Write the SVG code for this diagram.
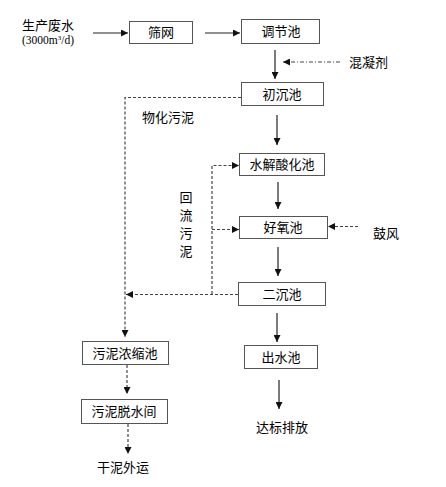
<svg xmlns="http://www.w3.org/2000/svg" width="446" height="487" viewBox="0 0 446 487">
<style>
.box{fill:#fff;stroke:#555;stroke-width:1}
.t{font-family:"Noto Sans CJK SC","Liberation Sans",sans-serif;font-size:13px;fill:#000}
.c{text-anchor:middle}
.r{font-family:"Liberation Serif",serif;font-size:11.5px;fill:#000}
.s{stroke:#222;stroke-width:1.2;fill:none}
.d{stroke:#444;stroke-width:1.2;fill:none;stroke-dasharray:3 2}
.dd{stroke:#444;stroke-width:1;fill:none;stroke-dasharray:4 2 1 2}
</style>
<defs>
<marker id="ah" viewBox="0 0 8 8" refX="8" refY="4" markerWidth="7" markerHeight="7" markerUnits="userSpaceOnUse" orient="auto">
<path d="M0,0 L8,4 L0,8 Z" fill="#111"/>
</marker>
</defs>
<g id="labels">
<text class="t" x="22" y="29.5">生产废水</text>
<text class="r" x="22" y="43.5">(3000m<tspan font-size="7" baseline-shift="super">3</tspan>/d)</text>
<text class="t" x="349" y="67">混凝剂</text>
<text class="t" x="142" y="122">物化污泥</text>
<text class="t" x="373" y="238">鼓风</text>
<text class="t" x="186" y="191" writing-mode="vertical-rl" letter-spacing="5">回流污泥</text>
<text class="t" x="97" y="472">干泥外运</text>
<text class="t" x="256" y="432">达标排放</text>
</g>
<g id="n-shaiwang"><rect class="box" x="129.5" y="21.5" width="63" height="22"/><text class="t c" x="161" y="37">筛网</text></g>
<g id="n-tiaojie"><rect class="box" x="241.5" y="19.5" width="78" height="24"/><text class="t c" x="281" y="36">调节池</text></g>
<g id="n-chuchen"><rect class="box" x="241.5" y="82.5" width="82" height="23"/><text class="t c" x="282" y="99">初沉池</text></g>
<g id="n-shuijie"><rect class="box" x="239.5" y="153.5" width="85" height="22"/><text class="t c" x="282" y="169">水解酸化池</text></g>
<g id="n-haoyang"><rect class="box" x="239.5" y="216.5" width="88" height="22"/><text class="t c" x="283" y="232">好氧池</text></g>
<g id="n-erchen"><rect class="box" x="238.5" y="282.5" width="87" height="23"/><text class="t c" x="282" y="299">二沉池</text></g>
<g id="n-chushui"><rect class="box" x="244.5" y="345.5" width="73" height="23"/><text class="t c" x="281" y="362">出水池</text></g>
<g id="n-nongsuo"><rect class="box" x="82.5" y="341.5" width="86" height="23"/><text class="t c" x="125" y="358">污泥浓缩池</text></g>
<g id="n-tuoshui"><rect class="box" x="81.5" y="399.5" width="86" height="24"/><text class="t c" x="124" y="416">污泥脱水间</text></g>
<g id="connectors">
<line class="s" x1="93" y1="33" x2="128" y2="33" marker-end="url(#ah)"/>
<line class="s" x1="205" y1="33" x2="240" y2="33" marker-end="url(#ah)"/>
<line class="s" x1="275" y1="50" x2="275" y2="79" marker-end="url(#ah)"/>
<line class="dd" x1="340" y1="62" x2="283" y2="62" marker-end="url(#ah)"/>
<line class="s" x1="277" y1="115" x2="277" y2="145" marker-end="url(#ah)"/>
<line class="s" x1="278" y1="182" x2="278" y2="209" marker-end="url(#ah)"/>
<line class="s" x1="278" y1="247" x2="278" y2="276" marker-end="url(#ah)"/>
<line class="s" x1="277" y1="313" x2="277" y2="342" marker-end="url(#ah)"/>
<line class="s" x1="279" y1="380" x2="279" y2="409" marker-end="url(#ah)"/>
<polyline class="d" points="241,97.5 125,97.5 125,337" marker-end="url(#ah)"/>
<line class="d" x1="238" y1="294.5" x2="126" y2="294.5" marker-end="url(#ah)"/>
<polyline class="d" points="212,294 212,165.5 239,165.5" marker-end="url(#ah)"/>
<line class="d" x1="212" y1="229.5" x2="239" y2="229.5" marker-end="url(#ah)"/>
<line class="d" x1="358" y1="226.5" x2="328" y2="226.5" marker-end="url(#ah)"/>
<line class="d" x1="127" y1="365" x2="127" y2="394" marker-end="url(#ah)"/>
<line class="d" x1="128" y1="424" x2="128" y2="454" marker-end="url(#ah)"/>
</g>
</svg>
